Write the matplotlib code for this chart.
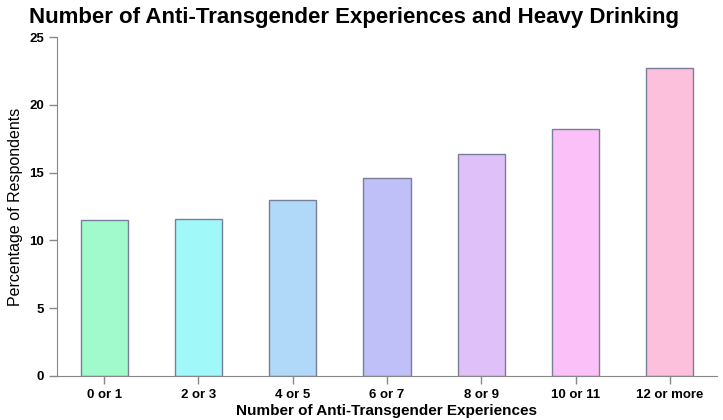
import matplotlib.pyplot as plt
import numpy as np

# data
groups = ["0 or 1", "2 or 3", "4 or 5", "6 or 7", "8 or 9", "10 or 11", "12 or more"]
percent = [11.5, 11.6, 12.95, 14.6, 16.4, 18.2, 22.75]
colors = ["#A0FACC", "#A0F8F8", "#B0D8F8", "#C0C0F8", "#E0C0F8", "#FCC0F8", "#FCC0DC"]

plt.rcParams['font.family'] = ['Liberation Sans', 'DejaVu Sans']

fig = plt.figure(figsize=(7.23, 4.2), dpi=100)
ax = fig.add_axes([57/723, 44/420, 660/723, 339/420])

x = np.arange(len(groups))
ax.bar(x, percent, width=0.5, color=colors, edgecolor="#7a7f99", linewidth=1.0)

ax.set_xlim(-0.5, 6.5)
ax.set_ylim(0, 25)
ax.set_yticks([0, 5, 10, 15, 20, 25])
ax.set_xticks(x)
ax.set_xticklabels(groups, fontsize=9.5, fontweight="bold")
for lbl in ax.get_yticklabels():
    lbl.set_fontsize(9.5)
    lbl.set_fontweight("bold")

for s in ["top", "right"]:
    ax.spines[s].set_visible(False)
for s in ["left", "bottom"]:
    ax.spines[s].set_color("#888888")
ax.tick_params(axis="both", colors="#888888", labelcolor="black", length=6, width=1)

ax.set_xlabel("Number of Anti-Transgender Experiences", fontsize=11, fontweight="bold", labelpad=2)
ax.set_ylabel("Percentage of Respondents", fontsize=11.5, labelpad=4)
fig.text(354/723, 1 - 17/420, "Number of Anti-Transgender Experiences and Heavy Drinking",
         ha="center", va="center", fontsize=16, fontweight="bold")

plt.savefig("out.png", dpi=100)
